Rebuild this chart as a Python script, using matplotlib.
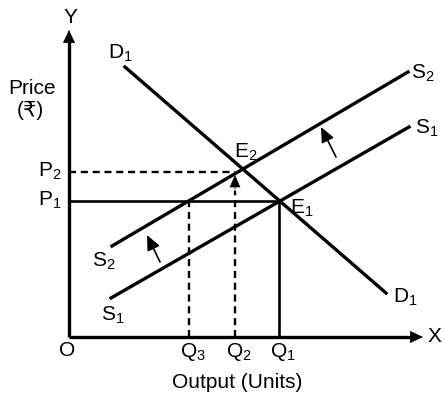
import matplotlib
matplotlib.use("Agg")
import matplotlib.pyplot as plt

plt.rcParams['font.family'] = ['Liberation Sans', 'DejaVu Sans']
plt.rcParams['mathtext.fontset'] = 'custom'
plt.rcParams['mathtext.rm'] = 'Liberation Sans'
plt.rcParams['mathtext.default'] = 'rm'

# Curve end points (output, price).
d1_x = [5.6, 31.7]
d1_y = [27.0, 4.4]
s1_x = [4.2, 34.0]
s1_y = [3.9, 21.0]
s2_x = [4.3, 33.9]
s2_y = [9.1, 26.5]

# Marked quantities and prices.
q_vals = [21.0, 16.6, 12.0]
q_names = ["Q$_1$", "Q$_2$", "Q$_3$"]
p_vals = [13.6, 16.5]
p_names = ["P$_1$", "P$_2$"]

x_max = 35.4
y_max = 30.7

fig = plt.figure(figsize=(4.44, 3.97), dpi=100)
ax = fig.add_axes([0, 0, 1, 1])
ax.set_xlim(-6.9, 37.5)
ax.set_ylim(-6.0, 33.7)
ax.axis('off')

lw = 2.4
fs = 15

# Axes with arrows.
ax.plot([0, x_max - 0.8], [0, 0], color='black', lw=lw, solid_capstyle='butt')
ax.plot([0, 0], [0, y_max - 0.8], color='black', lw=lw, solid_capstyle='butt')
ax.annotate("", xy=(x_max, 0), xytext=(x_max - 1.5, 0),
            arrowprops=dict(arrowstyle='-|>,head_length=0.85,head_width=0.4',
                            color='black', lw=0.5, shrinkA=0, shrinkB=0))
ax.annotate("", xy=(0, y_max), xytext=(0, y_max - 1.5),
            arrowprops=dict(arrowstyle='-|>,head_length=0.85,head_width=0.4',
                            color='black', lw=0.5, shrinkA=0, shrinkB=0))

# Demand and supply curves.
ax.plot(d1_x, d1_y, color='black', lw=lw)
ax.plot(s1_x, s1_y, color='black', lw=lw)
ax.plot(s2_x, s2_y, color='black', lw=lw)

# Old equilibrium E1.
ax.plot([0, q_vals[0]], [p_vals[0], p_vals[0]], color='black', lw=1.9)
ax.plot([q_vals[0], q_vals[0]], [0, p_vals[0]], color='black', lw=1.9)

# Dashed guides.
dash = (0, (3, 2))
ax.plot([0, q_vals[1]], [p_vals[1], p_vals[1]], color='black', lw=1.7, linestyle=dash)
ax.plot([q_vals[2], q_vals[2]], [0, p_vals[0]], color='black', lw=1.7, linestyle=dash)
ax.plot([q_vals[1], q_vals[1]], [0, 14.6], color='black', lw=1.7, linestyle=dash)
ax.annotate("", xy=(q_vals[1], 16.2), xytext=(q_vals[1], 14.4),
            arrowprops=dict(arrowstyle='-|>,head_length=0.8,head_width=0.35',
                            color='black', lw=0.5, shrinkA=0, shrinkB=0))

# Shift arrows.
for tail, head in [((9.1, 7.5), (7.8, 10.2)), ((26.7, 18.0), (25.2, 21.0))]:
    ax.annotate("", xy=head, xytext=tail,
                arrowprops=dict(arrowstyle='-|>,head_length=0.9,head_width=0.4',
                                color='black', lw=1.2, shrinkA=0, shrinkB=0))

# Labels.
kw = dict(fontsize=fs, ha='center', va='center', color='black')
ax.text(0.1, 32.0, "Y", **kw)
ax.text(x_max + 1.1, 0, "X", **kw)
ax.text(-0.2, -1.4, "O", **kw)
ax.text(-3.7, 24.9, "Price", **kw)
ax.text(-3.9, 22.7, "(\u20b9)", **kw)
ax.text(16.8, -4.6, "Output (Units)", **kw)
for q, name in zip(q_vals, q_names):
    ax.text(q + 0.4, -1.5, name, **kw)
for p, name in zip(p_vals, p_names):
    ax.text(-1.9, p + 0.1, name, **kw)
ax.text(5.1, 28.4, "D$_1$", **kw)
ax.text(33.6, 4.0, "D$_1$", **kw)
ax.text(35.4, 26.4, "S$_2$", **kw)
ax.text(35.8, 20.9, "S$_1$", **kw)
ax.text(3.5, 7.6, "S$_2$", **kw)
ax.text(4.4, 2.2, "S$_1$", **kw)
ax.text(17.7, 18.5, "E$_2$", **kw)
ax.text(23.3, 12.9, "E$_1$", **kw)

fig.savefig("out.png", dpi=100)
